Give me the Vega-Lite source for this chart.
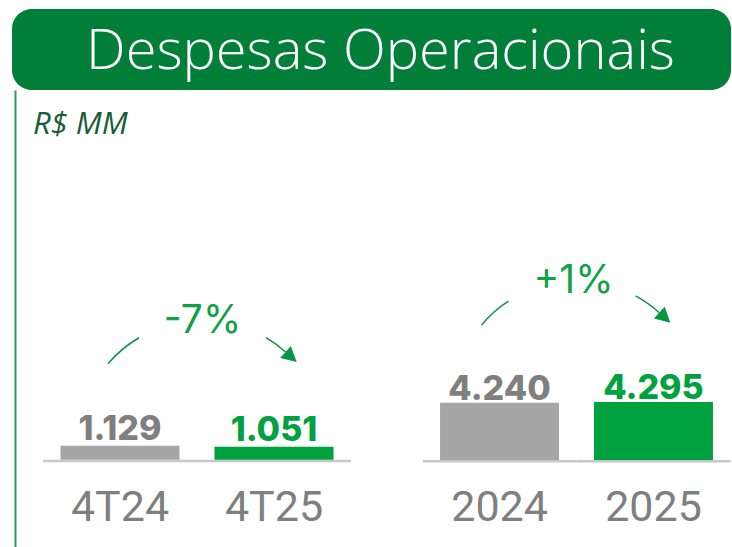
{
  "$schema": "https://vega.github.io/schema/vega-lite/v6.json",
  "padding": {"left": 12, "top": 9, "right": 0, "bottom": 0},
  "background": "#ffffff",
  "data": {"values": [
    {"grupo": "trimestral", "periodo": "4T24", "serie": "anterior", "valor": 1129, "variacao": "-7%"},
    {"grupo": "trimestral", "periodo": "4T25", "serie": "atual", "valor": 1051, "variacao": "-7%"},
    {"grupo": "anual", "periodo": "2024", "serie": "anterior", "valor": 4240, "variacao": "+1%"},
    {"grupo": "anual", "periodo": "2025", "serie": "atual", "valor": 4295, "variacao": "+1%"}
  ]},
  "spacing": 0,
  "columns": 1,
  "align": "none",
  "concat": [
    {
      "width": 719,
      "height": 81,
      "view": {"fill": "#017f39", "stroke": null, "cornerRadius": 20},
      "data": {"values": [{"titulo": "Despesas Operacionais"}]},
      "mark": {"type": "text", "font": "Open Sans", "fontWeight": 300, "fontSize": 56, "color": "#ffffff", "align": "center", "baseline": "alphabetic", "dx": 9, "dy": 19},
      "encoding": {"text": {"field": "titulo", "type": "nominal"}}
    },
    {
      "spacing": 71.5,
      "hconcat": [
        {
          "width": 339,
          "height": 460,
          "transform": [{"filter": "datum.grupo === 'trimestral'"}],
          "title": {"text": "R$ MM", "anchor": "start", "frame": "group", "orient": "top", "offset": -75, "dx": 21, "font": "Open Sans", "fontStyle": "italic", "fontWeight": "normal", "fontSize": 31, "color": "#1b5a3a", "baseline": "alphabetic"},
          "layer": [
            {
              "mark": {"type": "tick", "orient": "horizontal", "size": 154, "thickness": 2.5, "yOffset": 1.3, "color": "#c8c8c8", "opacity": 1},
              "encoding": {
                "x": {"field": "periodo", "type": "nominal", "sort": null, "title": null, "scale": {"paddingInner": 0.227, "paddingOuter": 0.2143, "align": 0.735}, "axis": {"offset": -89}},
                "y": {"datum": 0, "type": "quantitative", "title": null, "scale": {"domain": [-7300, 29900], "nice": false}, "axis": {"offset": -3}}
              }
            },
            {
              "mark": {"type": "bar"},
              "encoding": {
                "x": {"field": "periodo", "type": "nominal", "sort": null, "title": null, "axis": {"offset": -89}},
                "y": {"field": "valor", "type": "quantitative", "title": null, "axis": {"offset": -3}},
                "color": {"field": "serie", "type": "nominal", "legend": null, "scale": {"domain": ["anterior", "atual"], "range": ["#a6a6a6", "#00a13f"]}}
              }
            },
            {
              "mark": {"type": "text", "font": "Inter", "fontWeight": 800, "fontSize": 34, "baseline": "alphabetic", "dy": -6},
              "encoding": {
                "x": {"field": "periodo", "type": "nominal", "sort": null, "title": null, "axis": {"offset": -89}},
                "y": {"field": "valor", "type": "quantitative", "title": null, "axis": {"offset": -3}},
                "text": {"field": "valor", "type": "quantitative", "format": ",.0f"},
                "color": {"field": "serie", "type": "nominal", "legend": null, "scale": {"domain": ["anterior", "atual"], "range": ["#7f7f7f", "#00a13f"]}}
              }
            },
            {
              "mark": {"type": "text", "font": "Inter", "fontSize": 39, "color": "#13a047", "baseline": "alphabetic", "dx": 21, "dy": -113},
              "encoding": {
                "y": {"aggregate": "max", "field": "valor", "type": "quantitative", "title": null, "axis": {"offset": -3}},
                "text": {"field": "variacao", "type": "nominal"}
              }
            },
            {
              "mark": {"type": "point", "shape": "M-0.735,-0.82Q-0.602,-0.976,-0.425,-1.08M0.846,-1.081Q0.95,-1.019,1.04,-0.938", "size": 40000, "filled": false, "color": "#0b9444", "strokeWidth": 1.5, "opacity": 1},
              "encoding": {
                "y": {"aggregate": "max", "field": "valor", "type": "quantitative", "title": null, "axis": {"offset": -3}}
              }
            },
            {
              "mark": {"type": "point", "shape": "M1.152,-0.837L0.987,-0.877L1.093,-0.997Z", "size": 40000, "filled": true, "color": "#0b9444", "strokeWidth": 0, "opacity": 1},
              "encoding": {
                "y": {"aggregate": "max", "field": "valor", "type": "quantitative", "title": null, "axis": {"offset": -3}}
              }
            }
          ],
          "resolve": {"scale": {"color": "independent"}}
        },
        {
          "width": 308,
          "height": 460,
          "transform": [{"filter": "datum.grupo === 'anual'"}],
          "layer": [
            {
              "mark": {"type": "tick", "orient": "horizontal", "size": 154, "thickness": 2.5, "yOffset": 1.3, "color": "#c8c8c8", "opacity": 1},
              "encoding": {
                "x": {"field": "periodo", "type": "nominal", "sort": null, "title": null, "scale": {"paddingInner": 0.227, "paddingOuter": 0.114}, "axis": {"offset": -89}},
                "y": {"datum": 0, "type": "quantitative", "title": null, "scale": {"domain": [-6700, 27500], "nice": false}, "axis": null}
              }
            },
            {
              "mark": {"type": "bar"},
              "encoding": {
                "x": {"field": "periodo", "type": "nominal", "sort": null, "title": null, "axis": {"offset": -89}},
                "y": {"field": "valor", "type": "quantitative", "title": null, "axis": null},
                "color": {"field": "serie", "type": "nominal", "legend": null, "scale": {"domain": ["anterior", "atual"], "range": ["#a6a6a6", "#00a13f"]}}
              }
            },
            {
              "mark": {"type": "text", "font": "Inter", "fontWeight": 800, "fontSize": 34, "baseline": "alphabetic", "dy": -3},
              "encoding": {
                "x": {"field": "periodo", "type": "nominal", "sort": null, "title": null, "axis": {"offset": -89}},
                "y": {"field": "valor", "type": "quantitative", "title": null, "axis": null},
                "text": {"field": "valor", "type": "quantitative", "format": ",.0f"},
                "color": {"field": "serie", "type": "nominal", "legend": null, "scale": {"domain": ["anterior", "atual"], "range": ["#7f7f7f", "#00a13f"]}}
              }
            },
            {
              "mark": {"type": "text", "font": "Inter", "fontSize": 39, "color": "#13a047", "baseline": "alphabetic", "dx": -3, "dy": -109},
              "encoding": {
                "y": {"aggregate": "max", "field": "valor", "type": "quantitative", "title": null, "axis": null},
                "text": {"field": "variacao", "type": "nominal"}
              }
            },
            {
              "mark": {"type": "point", "shape": "M-0.95,-0.77Q-0.834,-0.912,-0.68,-1.01M0.591,-1.062Q0.72,-0.992,0.828,-0.894", "size": 40000, "filled": false, "color": "#0b9444", "strokeWidth": 1.5, "opacity": 1},
              "encoding": {
                "y": {"aggregate": "max", "field": "valor", "type": "quantitative", "title": null, "axis": null}
              }
            },
            {
              "mark": {"type": "point", "shape": "M0.939,-0.793L0.774,-0.835L0.882,-0.953Z", "size": 40000, "filled": true, "color": "#0b9444", "strokeWidth": 0, "opacity": 1},
              "encoding": {
                "y": {"aggregate": "max", "field": "valor", "type": "quantitative", "title": null, "axis": null}
              }
            }
          ],
          "resolve": {"scale": {"color": "independent"}}
        }
      ]
    }
  ],
  "config": {
    "view": {"stroke": null},
    "locale": {"number": {"decimal": ",", "thousands": ".", "grouping": [3], "currency": ["R$", ""]}},
    "axisX": {"labelFont": "Roboto", "labelFontSize": 43, "labelColor": "#7f7f7f", "labelAngle": 0, "labelBaseline": "top", "labelPadding": 25, "ticks": false, "tickSize": 0, "grid": false, "domain": false, "labelFlush": false, "labelOverlap": false},
    "axisY": {"labels": false, "ticks": false, "tickSize": 0, "grid": false, "domainColor": "#22a04d", "domainWidth": 2}
  }
}
